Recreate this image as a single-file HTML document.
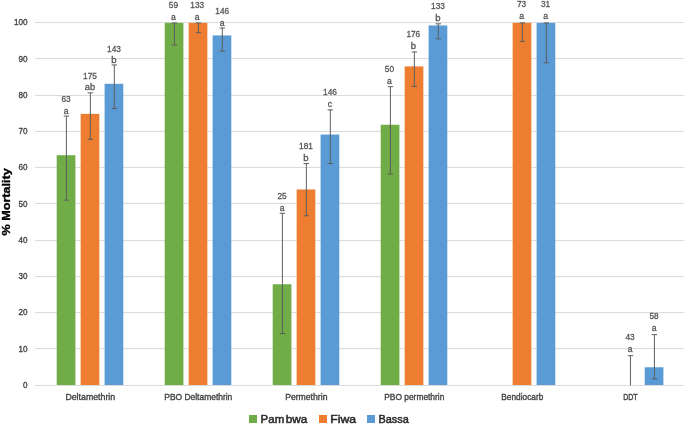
<!DOCTYPE html>
<html><head><meta charset="utf-8"><title>% Mortality chart</title>
<style>
html,body{margin:0;padding:0;background:#fff;}
body{width:685px;height:424px;overflow:hidden;}
svg{display:block;}
text{font-family:"Liberation Sans",sans-serif;}
.t{font-size:9px;fill:#555;stroke:#555;stroke-width:0.3px;}
.ax{fill:#424242;stroke:#424242;stroke-width:0.35px;}
.lg{font-size:10.7px;fill:#2b2b2b;stroke:#2b2b2b;stroke-width:0.5px;}
.yt{font-size:11.3px;font-weight:bold;fill:#000;stroke:#000;stroke-width:0.35px;}
</style></head><body>
<svg width="685" height="424" viewBox="0 0 685 424">
<rect width="685" height="424" fill="#fff"/>

<line x1="35.2" x2="684" y1="385.50" y2="385.50" stroke="#DBDBDB" stroke-width="1"/>
<text class="t ax" x="27.5" y="387.90" text-anchor="end" textLength="4.5" lengthAdjust="spacingAndGlyphs">0</text>
<line x1="35.2" x2="684" y1="348.50" y2="348.50" stroke="#DBDBDB" stroke-width="1"/>
<text class="t ax" x="27.5" y="351.65" text-anchor="end" textLength="9.0" lengthAdjust="spacingAndGlyphs">10</text>
<line x1="35.2" x2="684" y1="312.50" y2="312.50" stroke="#DBDBDB" stroke-width="1"/>
<text class="t ax" x="27.5" y="315.40" text-anchor="end" textLength="9.0" lengthAdjust="spacingAndGlyphs">20</text>
<line x1="35.2" x2="684" y1="276.50" y2="276.50" stroke="#DBDBDB" stroke-width="1"/>
<text class="t ax" x="27.5" y="279.15" text-anchor="end" textLength="9.0" lengthAdjust="spacingAndGlyphs">30</text>
<line x1="35.2" x2="684" y1="240.50" y2="240.50" stroke="#DBDBDB" stroke-width="1"/>
<text class="t ax" x="27.5" y="242.90" text-anchor="end" textLength="9.0" lengthAdjust="spacingAndGlyphs">40</text>
<line x1="35.2" x2="684" y1="203.50" y2="203.50" stroke="#DBDBDB" stroke-width="1"/>
<text class="t ax" x="27.5" y="206.65" text-anchor="end" textLength="9.0" lengthAdjust="spacingAndGlyphs">50</text>
<line x1="35.2" x2="684" y1="167.50" y2="167.50" stroke="#DBDBDB" stroke-width="1"/>
<text class="t ax" x="27.5" y="170.40" text-anchor="end" textLength="9.0" lengthAdjust="spacingAndGlyphs">60</text>
<line x1="35.2" x2="684" y1="131.50" y2="131.50" stroke="#DBDBDB" stroke-width="1"/>
<text class="t ax" x="27.5" y="134.15" text-anchor="end" textLength="9.0" lengthAdjust="spacingAndGlyphs">70</text>
<line x1="35.2" x2="684" y1="95.50" y2="95.50" stroke="#DBDBDB" stroke-width="1"/>
<text class="t ax" x="27.5" y="97.90" text-anchor="end" textLength="9.0" lengthAdjust="spacingAndGlyphs">80</text>
<line x1="35.2" x2="684" y1="58.50" y2="58.50" stroke="#DBDBDB" stroke-width="1"/>
<text class="t ax" x="27.5" y="61.65" text-anchor="end" textLength="9.0" lengthAdjust="spacingAndGlyphs">90</text>
<line x1="35.2" x2="684" y1="22.50" y2="22.50" stroke="#DBDBDB" stroke-width="1"/>
<text class="t ax" x="27.5" y="25.40" text-anchor="end" textLength="13.5" lengthAdjust="spacingAndGlyphs">100</text>
<rect x="56.70" y="155.21" width="18.7" height="229.79" fill="#70AD47"/>
<rect x="80.65" y="113.89" width="18.7" height="271.11" fill="#ED7D31"/>
<rect x="104.60" y="83.80" width="18.7" height="301.20" fill="#5B9BD5"/>
<rect x="164.70" y="22.90" width="18.7" height="362.10" fill="#70AD47"/>
<rect x="188.65" y="22.90" width="18.7" height="362.10" fill="#ED7D31"/>
<rect x="212.60" y="35.41" width="18.7" height="349.59" fill="#5B9BD5"/>
<rect x="272.70" y="284.26" width="18.7" height="100.74" fill="#70AD47"/>
<rect x="296.65" y="189.47" width="18.7" height="195.53" fill="#ED7D31"/>
<rect x="320.60" y="134.55" width="18.7" height="250.45" fill="#5B9BD5"/>
<rect x="380.70" y="124.76" width="18.7" height="260.24" fill="#70AD47"/>
<rect x="404.65" y="66.40" width="18.7" height="318.60" fill="#ED7D31"/>
<rect x="428.60" y="25.44" width="18.7" height="359.56" fill="#5B9BD5"/>
<rect x="512.65" y="22.90" width="18.7" height="362.10" fill="#ED7D31"/>
<rect x="536.60" y="22.90" width="18.7" height="362.10" fill="#5B9BD5"/>
<rect x="644.70" y="367.27" width="18.7" height="17.73" fill="#5B9BD5"/>
<path d="M66.40 116.06V200.16M63.70 116.06h5.4M63.70 200.16h5.4" stroke="#5e5e5e" stroke-width="1" fill="none"/>
<path d="M90.35 92.86V139.26M87.65 92.86h5.4M87.65 139.26h5.4" stroke="#5e5e5e" stroke-width="1" fill="none"/>
<path d="M114.30 64.95V108.45M111.60 64.95h5.4M111.60 108.45h5.4" stroke="#5e5e5e" stroke-width="1" fill="none"/>
<path d="M174.40 22.90V45.01M171.70 22.90h5.4M171.70 45.01h5.4" stroke="#5e5e5e" stroke-width="1" fill="none"/>
<path d="M198.35 22.90V32.69M195.65 22.90h5.4M195.65 32.69h5.4" stroke="#5e5e5e" stroke-width="1" fill="none"/>
<path d="M222.30 27.98V51.17M219.60 27.98h5.4M219.60 51.17h5.4" stroke="#5e5e5e" stroke-width="1" fill="none"/>
<path d="M282.40 213.21V333.56M279.70 213.21h5.4M279.70 333.56h5.4" stroke="#5e5e5e" stroke-width="1" fill="none"/>
<path d="M306.35 163.55V215.75M303.65 163.55h5.4M303.65 215.75h5.4" stroke="#5e5e5e" stroke-width="1" fill="none"/>
<path d="M330.30 109.90V163.55M327.60 109.90h5.4M327.60 163.55h5.4" stroke="#5e5e5e" stroke-width="1" fill="none"/>
<path d="M390.40 86.70V174.06M387.70 86.70h5.4M387.70 174.06h5.4" stroke="#5e5e5e" stroke-width="1" fill="none"/>
<path d="M414.35 51.90V86.34M411.65 51.90h5.4M411.65 86.34h5.4" stroke="#5e5e5e" stroke-width="1" fill="none"/>
<path d="M438.30 23.81V38.85M435.60 23.81h5.4M435.60 38.85h5.4" stroke="#5e5e5e" stroke-width="1" fill="none"/>
<path d="M522.35 22.90V41.39M519.65 22.90h5.4M519.65 41.39h5.4" stroke="#5e5e5e" stroke-width="1" fill="none"/>
<path d="M546.30 22.90V62.77M543.60 22.90h5.4M543.60 62.77h5.4" stroke="#5e5e5e" stroke-width="1" fill="none"/>
<path d="M630.45 355.67V385.40M627.75 355.67h5.4" stroke="#5e5e5e" stroke-width="1" fill="none"/>
<path d="M654.40 334.65V378.88M651.70 334.65h5.4M651.70 378.88h5.4" stroke="#5e5e5e" stroke-width="1" fill="none"/>
<text class="t" x="66.05" y="101.70" text-anchor="middle" textLength="9.2" lengthAdjust="spacingAndGlyphs">63</text>
<text class="t" x="66.05" y="113.50" text-anchor="middle" textLength="4.8" lengthAdjust="spacingAndGlyphs">a</text>
<text class="t" x="90.00" y="79.40" text-anchor="middle" textLength="13.8" lengthAdjust="spacingAndGlyphs">175</text>
<text class="t" x="90.00" y="90.30" text-anchor="middle" textLength="10.4" lengthAdjust="spacingAndGlyphs">ab</text>
<text class="t" x="113.95" y="51.70" text-anchor="middle" textLength="13.8" lengthAdjust="spacingAndGlyphs">143</text>
<text class="t" x="113.95" y="62.60" text-anchor="middle" textLength="5.3" lengthAdjust="spacingAndGlyphs">b</text>
<text class="t" x="173.45" y="8.10" text-anchor="middle" textLength="9.2" lengthAdjust="spacingAndGlyphs">59</text>
<text class="t" x="173.45" y="20.10" text-anchor="middle" textLength="4.8" lengthAdjust="spacingAndGlyphs">a</text>
<text class="t" x="197.20" y="8.10" text-anchor="middle" textLength="13.8" lengthAdjust="spacingAndGlyphs">133</text>
<text class="t" x="197.20" y="20.10" text-anchor="middle" textLength="4.8" lengthAdjust="spacingAndGlyphs">a</text>
<text class="t" x="222.25" y="14.20" text-anchor="middle" textLength="13.8" lengthAdjust="spacingAndGlyphs">146</text>
<text class="t" x="222.25" y="26.20" text-anchor="middle" textLength="4.8" lengthAdjust="spacingAndGlyphs">a</text>
<text class="t" x="282.05" y="198.60" text-anchor="middle" textLength="9.2" lengthAdjust="spacingAndGlyphs">25</text>
<text class="t" x="282.05" y="210.50" text-anchor="middle" textLength="4.8" lengthAdjust="spacingAndGlyphs">a</text>
<text class="t" x="306.00" y="148.80" text-anchor="middle" textLength="13.8" lengthAdjust="spacingAndGlyphs">181</text>
<text class="t" x="306.00" y="160.70" text-anchor="middle" textLength="5.3" lengthAdjust="spacingAndGlyphs">b</text>
<text class="t" x="329.95" y="95.10" text-anchor="middle" textLength="13.8" lengthAdjust="spacingAndGlyphs">146</text>
<text class="t" x="329.95" y="107.30" text-anchor="middle" textLength="4.3" lengthAdjust="spacingAndGlyphs">c</text>
<text class="t" x="389.45" y="72.00" text-anchor="middle" textLength="9.2" lengthAdjust="spacingAndGlyphs">50</text>
<text class="t" x="389.45" y="83.90" text-anchor="middle" textLength="4.8" lengthAdjust="spacingAndGlyphs">a</text>
<text class="t" x="413.30" y="37.30" text-anchor="middle" textLength="13.8" lengthAdjust="spacingAndGlyphs">176</text>
<text class="t" x="413.30" y="49.00" text-anchor="middle" textLength="5.3" lengthAdjust="spacingAndGlyphs">b</text>
<text class="t" x="437.95" y="9.20" text-anchor="middle" textLength="13.8" lengthAdjust="spacingAndGlyphs">133</text>
<text class="t" x="437.95" y="20.50" text-anchor="middle" textLength="5.3" lengthAdjust="spacingAndGlyphs">b</text>
<text class="t" x="521.60" y="6.50" text-anchor="middle" textLength="9.2" lengthAdjust="spacingAndGlyphs">73</text>
<text class="t" x="521.60" y="18.70" text-anchor="middle" textLength="4.8" lengthAdjust="spacingAndGlyphs">a</text>
<text class="t" x="545.55" y="6.50" text-anchor="middle" textLength="9.2" lengthAdjust="spacingAndGlyphs">31</text>
<text class="t" x="545.55" y="18.70" text-anchor="middle" textLength="4.8" lengthAdjust="spacingAndGlyphs">a</text>
<text class="t" x="630.10" y="339.90" text-anchor="middle" textLength="9.2" lengthAdjust="spacingAndGlyphs">43</text>
<text class="t" x="630.10" y="351.90" text-anchor="middle" textLength="4.8" lengthAdjust="spacingAndGlyphs">a</text>
<text class="t" x="654.05" y="318.90" text-anchor="middle" textLength="9.2" lengthAdjust="spacingAndGlyphs">58</text>
<text class="t" x="654.05" y="330.80" text-anchor="middle" textLength="4.8" lengthAdjust="spacingAndGlyphs">a</text>
<text class="t ax" x="90.30" y="400" text-anchor="middle" textLength="49.8" lengthAdjust="spacingAndGlyphs">Deltamethrin</text>
<text class="t ax" x="198.30" y="400" text-anchor="middle" textLength="68" lengthAdjust="spacingAndGlyphs">PBO Deltamethrin</text>
<text class="t ax" x="306.30" y="400" text-anchor="middle" textLength="42.3" lengthAdjust="spacingAndGlyphs">Permethrin</text>
<text class="t ax" x="414.30" y="400" text-anchor="middle" textLength="60.1" lengthAdjust="spacingAndGlyphs">PBO permethrin</text>
<text class="t ax" x="522.30" y="400" text-anchor="middle" textLength="42" lengthAdjust="spacingAndGlyphs">Bendiocarb</text>
<text class="t ax" x="630.40" y="400" text-anchor="middle" textLength="14.5" lengthAdjust="spacingAndGlyphs">DDT</text>
<text class="yt" transform="translate(10.3,201.9) rotate(-90)" text-anchor="middle" textLength="67.4" lengthAdjust="spacingAndGlyphs">% Mortality</text>
<rect x="249" y="415" width="8" height="8" fill="#70AD47"/>
<text class="lg" y="422.6"><tspan x="260.6" textLength="23.6" lengthAdjust="spacingAndGlyphs">Pam</tspan><tspan x="285.8" textLength="21.6" lengthAdjust="spacingAndGlyphs">bwa</tspan></text>
<rect x="319" y="415" width="8" height="8" fill="#ED7D31"/>
<text class="lg" x="330.3" y="422.6" textLength="25.8" lengthAdjust="spacingAndGlyphs">Fiwa</text>
<rect x="367" y="415" width="8" height="8" fill="#5B9BD5"/>
<text class="lg" x="378.5" y="422.6" textLength="30.3" lengthAdjust="spacingAndGlyphs">Bassa</text>
</svg></body></html>
